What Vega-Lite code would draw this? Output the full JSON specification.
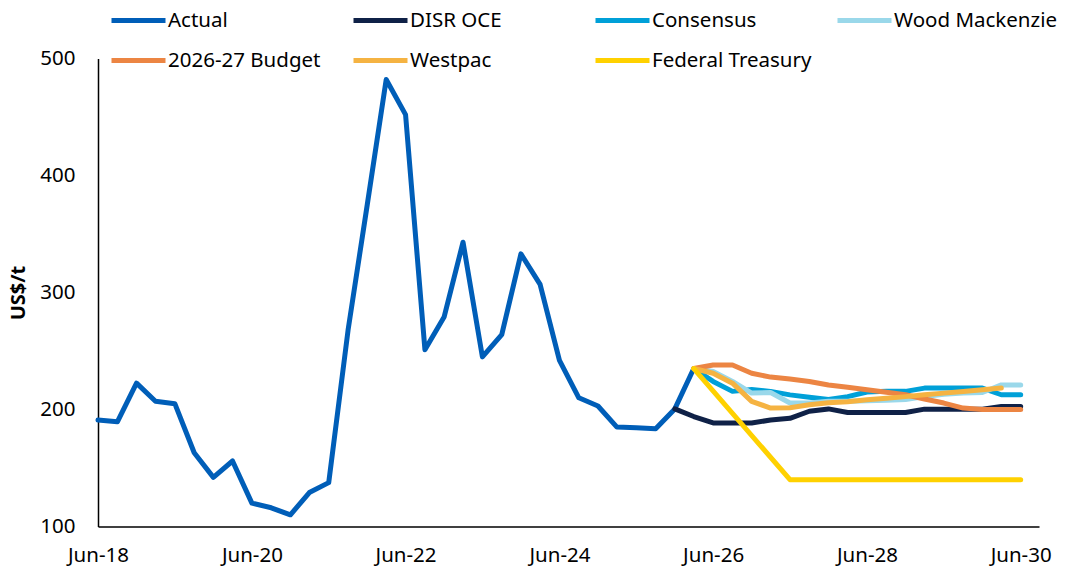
{
  "$schema": "https://vega.github.io/schema/vega-lite/v6.json",
  "width": 941,
  "height": 468,
  "autosize": "none",
  "padding": {"left": 98, "top": 58.5, "right": 44, "bottom": 45},
  "background": "white",
  "config": {
    "view": {"stroke": null},
    "font": "Noto Sans",
    "axis": {"labelFont": "Noto Sans", "titleFont": "Noto Sans", "labelColor": "#000", "titleColor": "#000", "domainColor": "#000", "domainWidth": 1.5, "ticks": false, "grid": false, "labelFontSize": 20.5}
  },
  "data": {"values": [
    {"date": "2018-06-01", "series": "Actual", "value": 191},
    {"date": "2018-09-01", "series": "Actual", "value": 189.5},
    {"date": "2018-12-01", "series": "Actual", "value": 222.5},
    {"date": "2019-03-01", "series": "Actual", "value": 207},
    {"date": "2019-06-01", "series": "Actual", "value": 205},
    {"date": "2019-09-01", "series": "Actual", "value": 163},
    {"date": "2019-12-01", "series": "Actual", "value": 142},
    {"date": "2020-03-01", "series": "Actual", "value": 156},
    {"date": "2020-06-01", "series": "Actual", "value": 120},
    {"date": "2020-09-01", "series": "Actual", "value": 116},
    {"date": "2020-12-01", "series": "Actual", "value": 110},
    {"date": "2021-03-01", "series": "Actual", "value": 129},
    {"date": "2021-06-01", "series": "Actual", "value": 137.5},
    {"date": "2021-09-01", "series": "Actual", "value": 268},
    {"date": "2021-12-01", "series": "Actual", "value": 375},
    {"date": "2022-03-01", "series": "Actual", "value": 482},
    {"date": "2022-06-01", "series": "Actual", "value": 452},
    {"date": "2022-09-01", "series": "Actual", "value": 251},
    {"date": "2022-12-01", "series": "Actual", "value": 279},
    {"date": "2023-03-01", "series": "Actual", "value": 343},
    {"date": "2023-06-01", "series": "Actual", "value": 245},
    {"date": "2023-09-01", "series": "Actual", "value": 264},
    {"date": "2023-12-01", "series": "Actual", "value": 333},
    {"date": "2024-03-01", "series": "Actual", "value": 307},
    {"date": "2024-06-01", "series": "Actual", "value": 242},
    {"date": "2024-09-01", "series": "Actual", "value": 210},
    {"date": "2024-12-01", "series": "Actual", "value": 203},
    {"date": "2025-03-01", "series": "Actual", "value": 185},
    {"date": "2025-06-01", "series": "Actual", "value": 184.5},
    {"date": "2025-09-01", "series": "Actual", "value": 183.6},
    {"date": "2025-12-01", "series": "Actual", "value": 200.5},
    {"date": "2026-03-01", "series": "Actual", "value": 235},

    {"date": "2025-12-01", "series": "DISR OCE", "value": 200.5},
    {"date": "2026-03-01", "series": "DISR OCE", "value": 194},
    {"date": "2026-06-01", "series": "DISR OCE", "value": 188.5},
    {"date": "2026-09-01", "series": "DISR OCE", "value": 188.5},
    {"date": "2026-12-01", "series": "DISR OCE", "value": 188.5},
    {"date": "2027-03-01", "series": "DISR OCE", "value": 191},
    {"date": "2027-06-01", "series": "DISR OCE", "value": 192.5},
    {"date": "2027-09-01", "series": "DISR OCE", "value": 198.5},
    {"date": "2027-12-01", "series": "DISR OCE", "value": 200.5},
    {"date": "2028-03-01", "series": "DISR OCE", "value": 197.5},
    {"date": "2028-06-01", "series": "DISR OCE", "value": 197.5},
    {"date": "2028-09-01", "series": "DISR OCE", "value": 197.5},
    {"date": "2028-12-01", "series": "DISR OCE", "value": 197.5},
    {"date": "2029-03-01", "series": "DISR OCE", "value": 200.3},
    {"date": "2029-06-01", "series": "DISR OCE", "value": 200.3},
    {"date": "2029-09-01", "series": "DISR OCE", "value": 200.3},
    {"date": "2029-12-01", "series": "DISR OCE", "value": 200.3},
    {"date": "2030-03-01", "series": "DISR OCE", "value": 202.5},
    {"date": "2030-06-01", "series": "DISR OCE", "value": 202.5},

    {"date": "2026-03-01", "series": "Consensus", "value": 235},
    {"date": "2026-06-01", "series": "Consensus", "value": 224},
    {"date": "2026-09-01", "series": "Consensus", "value": 215.5},
    {"date": "2026-12-01", "series": "Consensus", "value": 217},
    {"date": "2027-03-01", "series": "Consensus", "value": 215.5},
    {"date": "2027-06-01", "series": "Consensus", "value": 212.5},
    {"date": "2027-09-01", "series": "Consensus", "value": 210.5},
    {"date": "2027-12-01", "series": "Consensus", "value": 208.5},
    {"date": "2028-03-01", "series": "Consensus", "value": 211},
    {"date": "2028-06-01", "series": "Consensus", "value": 215},
    {"date": "2028-09-01", "series": "Consensus", "value": 215.5},
    {"date": "2028-12-01", "series": "Consensus", "value": 215.5},
    {"date": "2029-03-01", "series": "Consensus", "value": 218.3},
    {"date": "2029-06-01", "series": "Consensus", "value": 218.3},
    {"date": "2029-09-01", "series": "Consensus", "value": 218.3},
    {"date": "2029-12-01", "series": "Consensus", "value": 218.3},
    {"date": "2030-03-01", "series": "Consensus", "value": 212.6},
    {"date": "2030-06-01", "series": "Consensus", "value": 212.6},

    {"date": "2026-03-01", "series": "Wood Mackenzie", "value": 235},
    {"date": "2026-06-01", "series": "Wood Mackenzie", "value": 232.5},
    {"date": "2026-09-01", "series": "Wood Mackenzie", "value": 224},
    {"date": "2026-12-01", "series": "Wood Mackenzie", "value": 214},
    {"date": "2027-03-01", "series": "Wood Mackenzie", "value": 214.5},
    {"date": "2027-06-01", "series": "Wood Mackenzie", "value": 205.5},
    {"date": "2027-09-01", "series": "Wood Mackenzie", "value": 205.5},
    {"date": "2027-12-01", "series": "Wood Mackenzie", "value": 207},
    {"date": "2028-03-01", "series": "Wood Mackenzie", "value": 207},
    {"date": "2028-06-01", "series": "Wood Mackenzie", "value": 207.5},
    {"date": "2028-09-01", "series": "Wood Mackenzie", "value": 208},
    {"date": "2028-12-01", "series": "Wood Mackenzie", "value": 208.5},
    {"date": "2029-03-01", "series": "Wood Mackenzie", "value": 211},
    {"date": "2029-06-01", "series": "Wood Mackenzie", "value": 213},
    {"date": "2029-09-01", "series": "Wood Mackenzie", "value": 214},
    {"date": "2029-12-01", "series": "Wood Mackenzie", "value": 214.5},
    {"date": "2030-03-01", "series": "Wood Mackenzie", "value": 221},
    {"date": "2030-06-01", "series": "Wood Mackenzie", "value": 221},

    {"date": "2026-03-01", "series": "2026-27 Budget", "value": 235},
    {"date": "2026-06-01", "series": "2026-27 Budget", "value": 238},
    {"date": "2026-09-01", "series": "2026-27 Budget", "value": 238},
    {"date": "2026-12-01", "series": "2026-27 Budget", "value": 231},
    {"date": "2027-03-01", "series": "2026-27 Budget", "value": 227.7},
    {"date": "2027-06-01", "series": "2026-27 Budget", "value": 226},
    {"date": "2027-09-01", "series": "2026-27 Budget", "value": 224},
    {"date": "2027-12-01", "series": "2026-27 Budget", "value": 221},
    {"date": "2028-03-01", "series": "2026-27 Budget", "value": 219},
    {"date": "2028-06-01", "series": "2026-27 Budget", "value": 216.8},
    {"date": "2028-09-01", "series": "2026-27 Budget", "value": 214.7},
    {"date": "2028-12-01", "series": "2026-27 Budget", "value": 212.6},
    {"date": "2029-03-01", "series": "2026-27 Budget", "value": 209},
    {"date": "2029-06-01", "series": "2026-27 Budget", "value": 205.5},
    {"date": "2029-09-01", "series": "2026-27 Budget", "value": 201.2},
    {"date": "2029-12-01", "series": "2026-27 Budget", "value": 200},
    {"date": "2030-03-01", "series": "2026-27 Budget", "value": 200},
    {"date": "2030-06-01", "series": "2026-27 Budget", "value": 200},

    {"date": "2026-03-01", "series": "Westpac", "value": 235},
    {"date": "2026-06-01", "series": "Westpac", "value": 231},
    {"date": "2026-09-01", "series": "Westpac", "value": 222.5},
    {"date": "2026-12-01", "series": "Westpac", "value": 207},
    {"date": "2027-03-01", "series": "Westpac", "value": 201.2},
    {"date": "2027-06-01", "series": "Westpac", "value": 201.5},
    {"date": "2027-09-01", "series": "Westpac", "value": 204},
    {"date": "2027-12-01", "series": "Westpac", "value": 205.8},
    {"date": "2028-03-01", "series": "Westpac", "value": 206.7},
    {"date": "2028-06-01", "series": "Westpac", "value": 208.3},
    {"date": "2028-09-01", "series": "Westpac", "value": 209.7},
    {"date": "2028-12-01", "series": "Westpac", "value": 211},
    {"date": "2029-03-01", "series": "Westpac", "value": 212.6},
    {"date": "2029-06-01", "series": "Westpac", "value": 214},
    {"date": "2029-09-01", "series": "Westpac", "value": 215.4},
    {"date": "2029-12-01", "series": "Westpac", "value": 216.8},
    {"date": "2030-03-01", "series": "Westpac", "value": 218.3},

    {"date": "2026-03-01", "series": "Federal Treasury", "value": 235},
    {"date": "2027-06-01", "series": "Federal Treasury", "value": 140},
    {"date": "2027-09-01", "series": "Federal Treasury", "value": 140},
    {"date": "2027-12-01", "series": "Federal Treasury", "value": 140},
    {"date": "2028-03-01", "series": "Federal Treasury", "value": 140},
    {"date": "2028-06-01", "series": "Federal Treasury", "value": 140},
    {"date": "2028-09-01", "series": "Federal Treasury", "value": 140},
    {"date": "2028-12-01", "series": "Federal Treasury", "value": 140},
    {"date": "2029-03-01", "series": "Federal Treasury", "value": 140},
    {"date": "2029-06-01", "series": "Federal Treasury", "value": 140},
    {"date": "2029-09-01", "series": "Federal Treasury", "value": 140},
    {"date": "2029-12-01", "series": "Federal Treasury", "value": 140},
    {"date": "2030-03-01", "series": "Federal Treasury", "value": 140},
    {"date": "2030-06-01", "series": "Federal Treasury", "value": 140}
  ]},
  "mark": {"type": "line", "strokeWidth": 5, "strokeCap": "round", "strokeJoin": "round", "clip": false},
  "encoding": {
    "x": {
      "field": "date", "type": "temporal",
      "scale": {"type": "utc", "domain": ["2018-06-01", "2030-08-27"]},
      "axis": {
        "title": null,
        "labelExpr": "utcFormat(datum.value, '%b-%y')",
        "values": ["2018-06-01", "2020-06-01", "2022-06-01", "2024-06-01", "2026-06-01", "2028-06-01", "2030-06-01"],
        "labelPadding": 19,
        "labelFlush": false,
        "labelOverlap": false
      }
    },
    "y": {
      "field": "value", "type": "quantitative",
      "scale": {"domain": [100, 500], "nice": false, "zero": false},
      "axis": {
        "title": "US$/t",
        "titleFontWeight": "bold",
        "titleFontSize": 20,
        "titleX": -80,
        "titleY": 234,
        "titleAngle": -90,
        "titleAlign": "center",
        "titleBaseline": "middle",
        "values": [100, 200, 300, 400, 500],
        "labelPadding": 23
      }
    },
    "color": {
      "field": "series", "type": "nominal",
      "sort": ["Actual", "DISR OCE", "Consensus", "Wood Mackenzie", "2026-27 Budget", "Westpac", "Federal Treasury"],
      "scale": {
        "domain": ["Actual", "DISR OCE", "Consensus", "Wood Mackenzie", "2026-27 Budget", "Westpac", "Federal Treasury"],
        "range": ["#005EB8", "#0F2147", "#00A0D8", "#9AD8EA", "#EC8543", "#F5B342", "#FFD100"]
      },
      "legend": {
        "title": null,
        "orient": "none",
        "legendX": 11,
        "legendY": -67.5,
        "direction": "horizontal",
        "columns": 4,
        "gridAlign": "all",
        "columnPadding": 12,
        "rowPadding": -12,
        "padding": 0,
        "symbolType": "stroke",
        "symbolSize": 2916,
        "symbolStrokeWidth": 5,
        "labelFontSize": 20.5,
        "labelFont": "Noto Sans",
        "labelColor": "#000",
        "labelOffset": 0,
        "labelLimit": 300
      }
    }
  }
}
